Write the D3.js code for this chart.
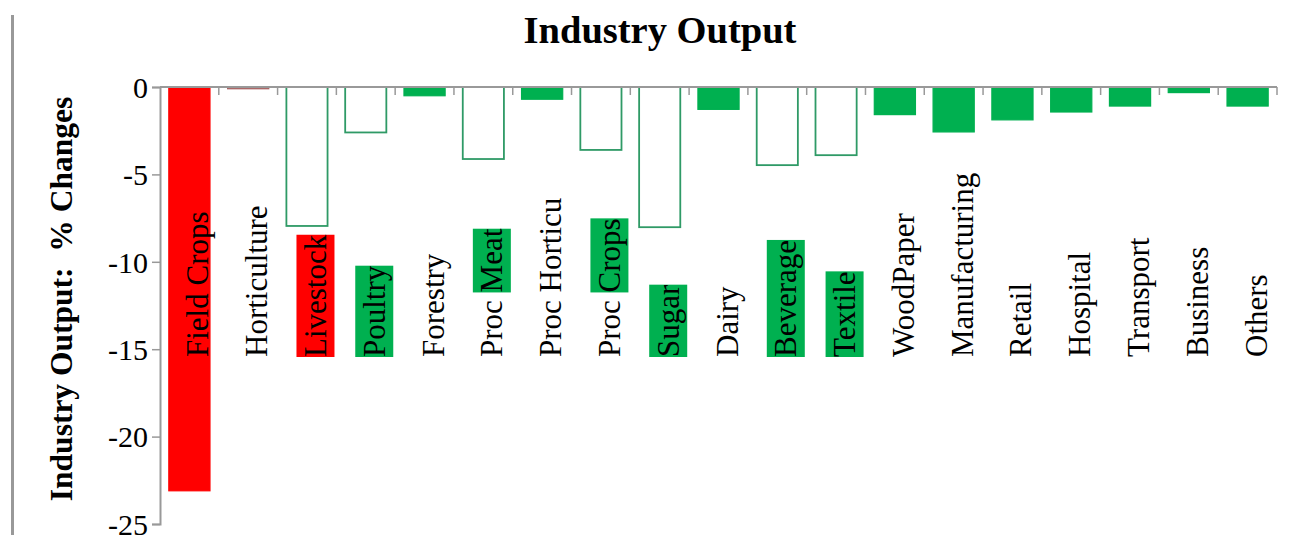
<!DOCTYPE html>
<html>
<head>
<meta charset="utf-8">
<script src="https://cdn.jsdelivr.net/npm/d3@7"></script>
<style>
  html, body { margin: 0; padding: 0; background: #fff; }
  svg { display: block; }
  text { font-family: "Liberation Serif", "Times New Roman", serif; }
</style>
</head>
<body>
<svg id="chart" width="1294" height="535"></svg>
<script>
// ---- Data ----
const categories = ["Field Crops", "Horticulture", "Livestock", "Poultry", "Forestry",
  "Proc Meat", "Proc Horticu", "Proc Crops", "Sugar", "Dairy", "Beverage", "Textile",
  "WoodPaper", "Manufacturing", "Retail", "Hospital", "Transport", "Business", "Others"];
const outputChange = [-23.1, -0.1, -7.95, -2.6, -0.5, -4.12, -0.7, -3.6, -8.02, -1.28,
  -4.47, -3.9, -1.58, -2.57, -1.88, -1.43, -1.09, -0.32, -1.09];
// bar group: "decline" (filled red), "minor" (tiny brownish), "solid" (filled green), "open" (outlined)
const barGroup = ["decline", "minor", "open", "open", "solid", "open", "solid", "open", "open", "solid",
  "open", "open", "solid", "solid", "solid", "solid", "solid", "solid", "solid"];
// highlighted word in the label and its group
const highlightWord = [null, null, "Livestock", "Poultry", null, "Meat", null, "Crops", "Sugar", null,
  "Beverage", "Textile", null, null, null, null, null, null, null];
const highlightGroup = [null, null, "decline", "solid", null, "solid", null, "solid", "solid", null,
  "solid", "solid", null, null, null, null, null, null, null];
const yTicks = [0, -5, -10, -15, -20, -25];
const chartTitle = "Industry Output";
const yTitle = "Industry Output:  % Changes";

// ---- Styles ----
const RED = "#ff0000", GREEN = "#00b050", EDGE = "#2f9a66";
const fillOf = { decline: RED, minor: "#a86262", solid: GREEN, open: "#ffffff" };
const strokeOf = { decline: RED, minor: "#a86262", solid: GREEN, open: EDGE };

const svg = d3.select("#chart");
const x0 = 160, x1 = 1277, yTop = 87, yBot = 524;

const x = d3.scaleBand().domain(categories).range([x0, x1]).paddingInner(0.3).paddingOuter(0.15);
const y = d3.scaleLinear().domain([0, -25]).range([yTop, yBot]);

// left decorative gray rule
svg.append("line").attr("x1", 12.5).attr("x2", 12.5).attr("y1", 15).attr("y2", 535)
  .attr("stroke", "#999").attr("stroke-width", 3);

// title
svg.append("text").attr("x", 660).attr("y", 43).attr("text-anchor", "middle")
  .attr("font-size", 38.5).attr("font-weight", "bold").text(chartTitle);

// y axis title
svg.append("text").attr("transform", "translate(72,299) rotate(-90)")
  .attr("text-anchor", "middle").attr("font-size", 31.5).attr("font-weight", "bold")
  .style("white-space", "pre").text(yTitle);

// y axis
const yAxis = svg.append("g").attr("transform", `translate(${x0},0)`)
  .call(d3.axisLeft(y).tickValues(yTicks).tickSize(8).tickPadding(4).tickFormat(d => String(d)));
yAxis.select(".domain").attr("stroke", "#999").attr("stroke-width", 2);
yAxis.selectAll(".tick line").attr("stroke", "#999").attr("stroke-width", 1.5);
yAxis.selectAll(".tick text").attr("font-size", 30).attr("fill", "#000")
  .attr("font-family", "Liberation Serif, serif").attr("dy", "0.34em");

// bars
svg.append("g").selectAll("rect").data(categories).join("rect")
  .attr("x", d => x(d))
  .attr("width", x.bandwidth())
  .attr("y", y(0))
  .attr("height", (d, i) => Math.max(1.2, y(outputChange[i]) - y(0)))
  .attr("fill", (d, i) => fillOf[barGroup[i]])
  .attr("stroke", (d, i) => strokeOf[barGroup[i]])
  .attr("stroke-width", (d, i) => barGroup[i] === "open" ? 1.8 : 1.2);

// x axis line with boundary ticks pointing down
const xg = svg.append("g");
xg.append("line").attr("x1", x0).attr("x2", x1).attr("y1", yTop).attr("y2", yTop)
  .attr("stroke", "#999").attr("stroke-width", 2);
const step = x.step();
xg.selectAll("line.b").data(categories).join("line").attr("class", "b")
  .attr("x1", d => x(d) + x.bandwidth() + step * 0.15)
  .attr("x2", d => x(d) + x.bandwidth() + step * 0.15)
  .attr("y1", yTop).attr("y2", yTop + 8)
  .attr("stroke", "#999").attr("stroke-width", 1.5);

// category labels (rotated), with highlighted word backgrounds
const labelBase = 357;
const lg = svg.append("g");
categories.forEach((c, i) => {
  const cx = x(c) + x.bandwidth() / 2;
  const g = lg.append("g").attr("transform", `translate(${cx + 19},${labelBase}) rotate(-90)`);
  const t = g.append("text").attr("x", 0).attr("y", 0).attr("font-size", 31)
    .attr("fill", "#000").text(c);
  const w = highlightWord[i];
  if (w) {
    const start = c.lastIndexOf(w);
    let minX = Infinity, maxX = -Infinity, minY = Infinity, maxY = -Infinity;
    for (let k = start; k < start + w.length; k++) {
      const e = t.node().getExtentOfChar(k);
      minX = Math.min(minX, e.x); maxX = Math.max(maxX, e.x + e.width);
      minY = Math.min(minY, e.y); maxY = Math.max(maxY, e.y + e.height);
    }
    g.insert("rect", "text")
      .attr("x", minX).attr("width", maxX - minX)
      .attr("y", minY - 1.5).attr("height", maxY - minY + 3)
      .attr("fill", fillOf[highlightGroup[i]]);
  }
});
</script>
</body>
</html>
